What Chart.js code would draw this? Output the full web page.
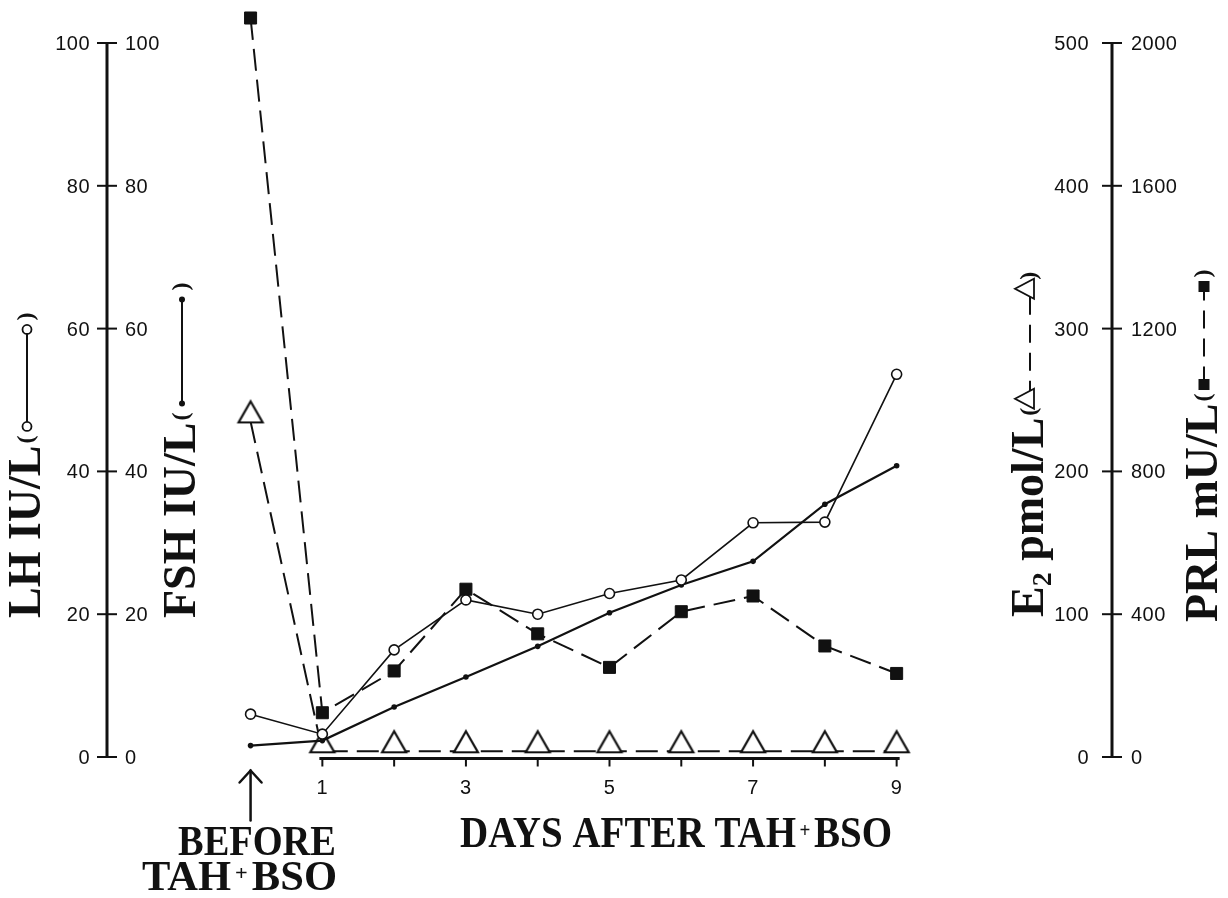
<!DOCTYPE html>
<html>
<head>
<meta charset="utf-8">
<script src="https://cdn.jsdelivr.net/npm/chart.js@4.4.1/dist/chart.umd.min.js"></script>
<style>
  html, body { margin: 0; padding: 0; background: #fff; }
  #wrap { width: 1228px; height: 898px; position: relative; }
</style>
</head>
<body>
<div id="wrap"><canvas id="chart"></canvas></div>
<script>
// day 0 = the sample taken before TAH + BSO
const days = [0, 1, 2, 3, 4, 5, 6, 7, 8, 9];
const lhValues = [6.0, 3.2, 15.0, 22.0, 20.0, 22.9, 24.8, 32.8, 32.9, 53.6];
const fshValues = [1.6, 2.3, 7.0, 11.2, 15.5, 20.2, 24.1, 27.4, 35.4, 40.8];
const e2Values = [235, 4, 4, 4, 4, 4, 4, 4, 4, 4];
const prlValues = [2070, 124, 241, 470, 345, 251, 407, 451, 311, 234];

const gonadTicks = [0, 20, 40, 60, 80, 100];
const e2Ticks = [0, 100, 200, 300, 400, 500];
const prlTicks = [0, 400, 800, 1200, 1600, 2000];
const dayTicks = [1, 2, 3, 4, 5, 6, 7, 8, 9];
const dayLabels = [1, 3, 5, 7, 9];

const INK = "#111";
const tickFont = '20px "Liberation Sans", Arial, sans-serif';
const titleFont = 'bold 46px "Liberation Serif", "Times New Roman", serif';
const subFont = 'bold 28px "Liberation Serif", "Times New Roman", serif';
const parenFont = 'bold 24px "Liberation Serif", "Times New Roman", serif';
const captionFont = 'bold 42px "Liberation Serif", "Times New Roman", serif';
const plusFont = 'bold 22px "Liberation Serif", "Times New Roman", serif';

// open triangle whose base sits on the data point (as in the paper)
function triangleMarker() {
  const c = document.createElement("canvas");
  c.width = 30; c.height = 50;
  const g = c.getContext("2d");
  g.lineWidth = 2.2;
  g.strokeStyle = INK;
  g.fillStyle = "#fff";
  g.beginPath();
  g.moveTo(15, 5);
  g.lineTo(27, 26);
  g.lineTo(3, 26);
  g.closePath();
  g.fill();
  g.stroke();
  return c;
}

function seg(ctx, x1, y1, x2, y2, w) {
  ctx.lineWidth = w;
  ctx.beginPath();
  ctx.moveTo(x1, y1);
  ctx.lineTo(x2, y2);
  ctx.stroke();
}

function glyph(ctx, kind, x, y) {
  ctx.save();
  ctx.lineWidth = 1.8;
  ctx.strokeStyle = INK;
  ctx.fillStyle = INK;
  ctx.setLineDash([]);
  ctx.beginPath();
  if (kind === "circle") {
    ctx.arc(x, y, 4.5, 0, Math.PI * 2);
    ctx.fillStyle = "#fff";
    ctx.fill();
    ctx.stroke();
  } else if (kind === "dot") {
    ctx.arc(x, y, 3, 0, Math.PI * 2);
    ctx.fill();
  } else if (kind === "square") {
    ctx.fillRect(x - 5.5, y - 5.5, 11, 11);
  } else if (kind === "triangle") {
    ctx.moveTo(x, y - 15);
    ctx.lineTo(x + 10, y + 4);
    ctx.lineTo(x - 10, y + 4);
    ctx.closePath();
    ctx.fillStyle = "#fff";
    ctx.fill();
    ctx.stroke();
  }
  ctx.restore();
}

// rotated axis title, reading bottom to top, with the legend glyph in brackets
function verticalTitle(ctx, x, yBottom, parts, sym) {
  ctx.save();
  ctx.translate(x, yBottom);
  ctx.rotate(-Math.PI / 2);
  ctx.fillStyle = INK;
  ctx.strokeStyle = INK;
  ctx.textAlign = "left";
  ctx.textBaseline = "alphabetic";
  let pos = 0;
  for (const p of parts) {
    ctx.font = p.font;
    ctx.fillText(p.text, pos, p.dy || 0);
    pos += ctx.measureText(p.text).width;
  }
  ctx.font = parenFont;
  ctx.fillText("(", pos + 2, -7);
  pos += 2 + ctx.measureText("(").width;
  const a = pos + 9, b = a + sym.len, ly = -13;
  ctx.setLineDash(sym.dash || []);
  seg(ctx, a, ly, b, ly, 2);
  ctx.setLineDash([]);
  glyph(ctx, sym.kind, a, ly);
  glyph(ctx, sym.kind, b, ly);
  ctx.font = parenFont;
  ctx.fillText(")", b + 9, -7);
  ctx.restore();
}

// horizontal caption squeezed to a given width
function caption(ctx, parts, x, y, width, align) {
  ctx.save();
  let total = 0;
  for (const p of parts) {
    ctx.font = p.font;
    total += ctx.measureText(p.text).width + (p.pad || 0) * 2;
  }
  const s = width / total;
  ctx.translate(align === "right" ? x - width : x, y);
  ctx.scale(s, 1);
  ctx.fillStyle = INK;
  ctx.textAlign = "left";
  ctx.textBaseline = "alphabetic";
  let pos = 0;
  for (const p of parts) {
    ctx.font = p.font;
    pos += p.pad || 0;
    ctx.fillText(p.text, pos, p.dy || 0);
    pos += ctx.measureText(p.text).width + (p.pad || 0);
  }
  ctx.restore();
}

const tahBso = (font) => [
  { text: "TAH", font },
  { text: "+", font: plusFont, dy: -10, pad: 4 },
  { text: "BSO", font },
];

const paperAxes = {
  id: "paperAxes",
  afterDraw(chart) {
    const { ctx, scales } = chart;
    const xs = scales.x, yG = scales.yLH, yE = scales.yE2, yP = scales.yPRL;
    ctx.save();
    ctx.strokeStyle = INK;
    ctx.fillStyle = INK;
    ctx.font = tickFont;
    ctx.letterSpacing = "0.5px";

    // left axis: LH outside, FSH inside
    const lx = xs.getPixelForValue(xs.min);
    seg(ctx, lx, yG.getPixelForValue(0) + 1, lx, yG.getPixelForValue(100) - 1, 3);
    gonadTicks.forEach((v) => {
      const y = yG.getPixelForValue(v);
      seg(ctx, lx - 10, y, lx + 10, y, 2);
      ctx.textAlign = "right";
      ctx.fillText(String(v), lx - 17, y + 7);
      ctx.textAlign = "left";
      ctx.fillText(String(v), lx + 18, y + 7);
    });

    // right axis: E2 inside, PRL outside
    const rx = xs.getPixelForValue(xs.max);
    seg(ctx, rx, yE.getPixelForValue(0) + 1, rx, yE.getPixelForValue(500) - 1, 3);
    e2Ticks.forEach((v) => {
      const y = yE.getPixelForValue(v);
      seg(ctx, rx - 10, y, rx + 10, y, 2);
      ctx.textAlign = "right";
      ctx.fillText(String(v), rx - 23, y + 7);
    });
    prlTicks.forEach((v) => {
      const y = yP.getPixelForValue(v);
      ctx.textAlign = "left";
      ctx.fillText(String(v), rx + 19, y + 7);
    });

    // day axis
    const y0 = yG.getPixelForValue(0) + 1.5;
    seg(ctx, xs.getPixelForValue(1) - 3, y0, xs.getPixelForValue(9) + 3, y0, 3);
    dayTicks.forEach((d) => {
      const x = xs.getPixelForValue(d);
      seg(ctx, x, y0, x, y0 + 8, 2);
    });
    ctx.textAlign = "center";
    dayLabels.forEach((d) => {
      ctx.fillText(String(d), xs.getPixelForValue(d), y0 + 35);
    });
    ctx.letterSpacing = "0px";

    // arrow marking the pre-operative sample
    const ax = xs.getPixelForValue(0);
    ctx.lineCap = "round";
    seg(ctx, ax, y0 + 12, ax, y0 + 62, 2.5);
    ctx.lineWidth = 2.5;
    ctx.beginPath();
    ctx.moveTo(ax - 11, y0 + 24);
    ctx.lineTo(ax, y0 + 12);
    ctx.lineTo(ax + 11, y0 + 24);
    ctx.stroke();
    ctx.lineCap = "butt";

    // captions
    caption(ctx, [{ text: "BEFORE", font: captionFont }], 336, 855, 158, "right");
    caption(ctx, tahBso(captionFont), 337, 890, 195, "right");
    caption(ctx, [{ text: "DAYS AFTER ", font: 'bold 45px "Liberation Serif", serif' }].concat(tahBso('bold 45px "Liberation Serif", serif')), 460, 847, 432, "left");

    // axis titles
    verticalTitle(ctx, lx - 67, 618, [{ text: "LH IU/L", font: titleFont }], { kind: "circle", len: 97 });
    verticalTitle(ctx, lx + 88, 618, [{ text: "FSH IU/L", font: titleFont }], { kind: "dot", len: 104 });
    verticalTitle(ctx, rx - 69, 617, [
      { text: "E", font: titleFont },
      { text: "2", font: subFont, dy: 8 },
      { text: " pmol/L", font: titleFont },
    ], { kind: "triangle", len: 110, dash: [18, 10] });
    verticalTitle(ctx, rx + 105, 622, [{ text: "PRL mU/L", font: titleFont }], { kind: "square", len: 98, dash: [18, 10] });

    ctx.restore();
  },
};

const points = (vals) => days.map((d, i) => ({ x: d, y: vals[i] }));

// the plot area reaches above the top tick so the off-scale PRL sample can be drawn;
// the top ticks (100 / 500 / 2000) stay at 714 px above the zero line
const topPad = 10, zeroPx = 757, tickTopPx = 43;
const headroom = (zeroPx - topPad) / (zeroPx - tickTopPx);

new Chart(document.getElementById("chart"), {
  type: "line",
  data: {
    datasets: [
      {
        label: "LH",
        data: points(lhValues),
        yAxisID: "yLH",
        borderColor: INK,
        borderWidth: 1.6,
        pointStyle: "circle",
        pointRadius: 5,
        pointBorderWidth: 1.6,
        pointBorderColor: INK,
        pointBackgroundColor: "#fff",
        clip: false,
        order: 0,
      },
      {
        label: "FSH",
        data: points(fshValues),
        yAxisID: "yFSH",
        borderColor: INK,
        borderWidth: 2.2,
        pointStyle: "circle",
        pointRadius: 2.8,
        pointBorderWidth: 0,
        pointBackgroundColor: INK,
        clip: false,
        order: 1,
      },
      {
        label: "PRL",
        data: points(prlValues),
        yAxisID: "yPRL",
        borderColor: INK,
        borderWidth: 2,
        borderDash: [22, 9],
        pointStyle: "rect",
        pointRadius: 8.5,
        pointBorderWidth: 1,
        pointBorderColor: INK,
        pointBackgroundColor: INK,
        clip: false,
        order: 2,
      },
      {
        label: "E2",
        data: points(e2Values),
        yAxisID: "yE2",
        borderColor: INK,
        borderWidth: 2,
        borderDash: [22, 9],
        pointStyle: triangleMarker(),
        pointRadius: 12,
        clip: false,
        order: 3,
      },
    ],
  },
  options: {
    responsive: true,
    maintainAspectRatio: false,
    animation: false,
    events: [],
    layout: {
      autoPadding: false,
      padding: { left: 107, right: 116, top: topPad, bottom: 898 - zeroPx },
    },
    elements: { line: { tension: 0, fill: false } },
    plugins: { legend: { display: false }, tooltip: { enabled: false } },
    scales: {
      x: { type: "linear", min: -2, max: 12, bounds: "data", display: false },
      yLH: { type: "linear", min: 0, max: 100 * headroom, bounds: "data", display: false },
      yFSH: { type: "linear", min: 0, max: 100 * headroom, bounds: "data", display: false },
      yE2: { type: "linear", min: 0, max: 500 * headroom, bounds: "data", display: false },
      yPRL: { type: "linear", min: 0, max: 2000 * headroom, bounds: "data", display: false },
    },
  },
  plugins: [paperAxes],
});
</script>
</body>
</html>
